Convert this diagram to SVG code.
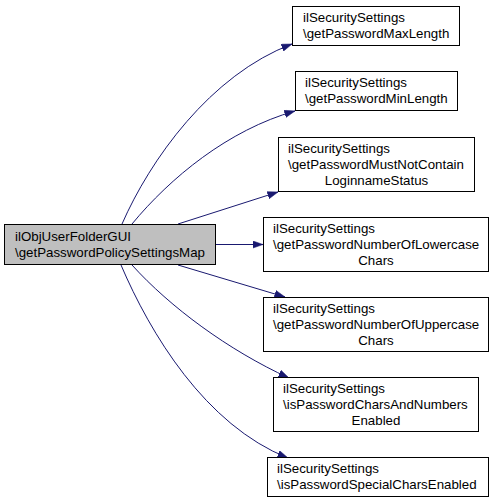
<svg xmlns="http://www.w3.org/2000/svg" width="495" height="504" viewBox="0 0 495 504">
<style>
.box{fill:#ffffff;stroke:#000000;stroke-width:1}
.main{fill:#bfbfbf;stroke:#000000;stroke-width:1}
text{font-family:"Liberation Sans",Arial,Helvetica,sans-serif;font-size:13.3px;fill:#000000}
.c{text-anchor:middle}
.edge{fill:none;stroke:#191970;stroke-width:1;marker-end:url(#arr)}
</style>
<defs>
<marker id="arr" markerWidth="11" markerHeight="8" refX="10.5" refY="4" orient="auto" markerUnits="userSpaceOnUse">
<path d="M0,0.3 L10.5,4 L0,7.7 z" fill="#191970" stroke="#191970" stroke-width="0.5"/>
</marker>
</defs>
<rect width="495" height="504" fill="#ffffff"/>
<g id="connectors">
<path class="edge" d="M122,224 C150,160 210,75 292,44"/>
<path class="edge" d="M132,224 C170,178 228,130 295,111"/>
<path class="edge" d="M178,224 L278,192"/>
<path class="edge" d="M216,244.5 L263,244.5"/>
<path class="edge" d="M178,265 L285,297"/>
<path class="edge" d="M132,265 C170,307 228,350 289,378"/>
<path class="edge" d="M121,265 C150,333 205,425 288,458"/>
</g>
<g id="node-main">
<rect class="main" x="4.5" y="224.5" width="211" height="40"/>
<text x="15" y="241">ilObjUserFolderGUI</text>
<text x="15" y="257">\getPasswordPolicySettingsMap</text>
</g>
<g id="node-maxlength">
<rect class="box" x="292.5" y="6.5" width="167" height="39"/>
<text x="303" y="22">ilSecuritySettings</text>
<text x="303" y="38">\getPasswordMaxLength</text>
</g>
<g id="node-minlength">
<rect class="box" x="295.5" y="71.5" width="162" height="39"/>
<text x="305" y="87">ilSecuritySettings</text>
<text x="305" y="103">\getPasswordMinLength</text>
</g>
<g id="node-loginname">
<rect class="box" x="278.5" y="137.5" width="196" height="54"/>
<text x="288" y="153">ilSecuritySettings</text>
<text x="288" y="169">\getPasswordMustNotContain</text>
<text class="c" x="376.5" y="185">LoginnameStatus</text>
</g>
<g id="node-lowercase">
<rect class="box" x="263.5" y="217.5" width="225" height="54"/>
<text x="273" y="233">ilSecuritySettings</text>
<text x="273" y="249">\getPasswordNumberOfLowercase</text>
<text class="c" x="376" y="265">Chars</text>
</g>
<g id="node-uppercase">
<rect class="box" x="263.5" y="297.5" width="225" height="54"/>
<text x="273" y="313">ilSecuritySettings</text>
<text x="273" y="329">\getPasswordNumberOfUppercase</text>
<text class="c" x="376" y="345">Chars</text>
</g>
<g id="node-charsnumbers">
<rect class="box" x="273.5" y="377.5" width="205" height="54"/>
<text x="283" y="393">ilSecuritySettings</text>
<text x="283" y="409">\isPasswordCharsAndNumbers</text>
<text class="c" x="376" y="425">Enabled</text>
</g>
<g id="node-specialchars">
<rect class="box" x="267.5" y="457.5" width="221" height="39"/>
<text x="277" y="473">ilSecuritySettings</text>
<text x="277" y="489">\isPasswordSpecialCharsEnabled</text>
</g>
</svg>
